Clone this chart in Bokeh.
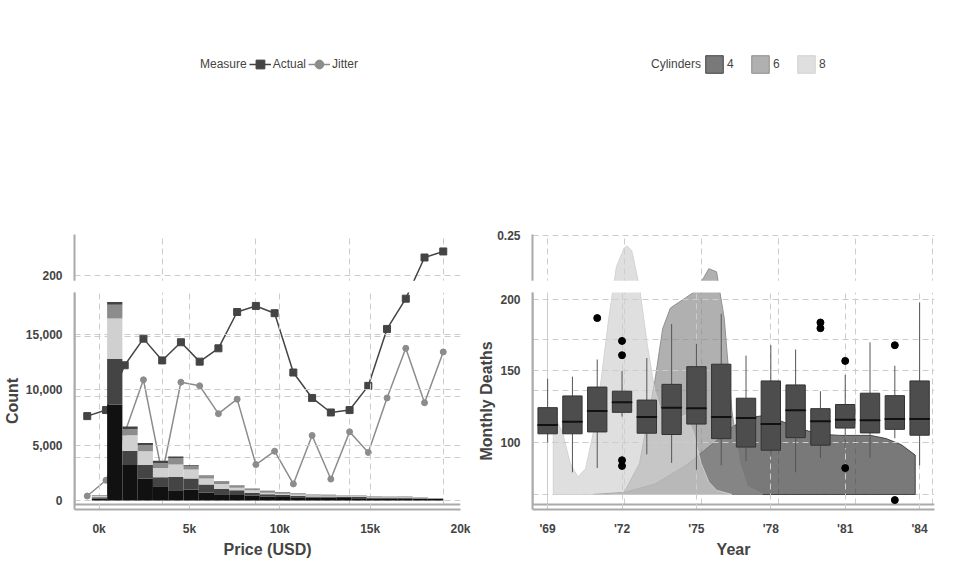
import numpy as np
from bokeh.plotting import figure
from bokeh.layouts import gridplot
from bokeh.models import (Range1d, Legend, LegendItem,
                          CustomJSTickFormatter, NumeralTickFormatter, FixedTicker)
from bokeh.embed import file_html
from bokeh.resources import INLINE

FONT = "Liberation Sans"
TXT = "#444444"

# ---------------- data ----------------
minutes = list(range(5, 105, 5))
actual = [84, 89, 126, 148, 130, 145, 129, 140, 170, 175, 169, 120, 99, 87, 89, 109, 156, 181, 215, 220]
jitter = [18, 31, 70, 114, 36, 112, 109, 86, 98, 44, 55, 28, 68, 32, 71, 54, 99, 140, 95, 137]

cyl4_x = [13, 15, 17, 19, 20, 21, 22, 23, 24, 25, 26, 27, 28, 29, 30, 31, 32, 33, 33.9]
cyl4_y = [0, 0.002, 0.01, 0.028, 0.04, 0.052, 0.065, 0.074, 0.076, 0.072, 0.066, 0.061,
          0.058, 0.057, 0.057, 0.057, 0.054, 0.048, 0.038]
cyl6_x = [14, 15, 16, 17, 17.5, 18, 18.5, 19, 19.5, 20, 20.5, 21, 21.5, 22, 22.5, 23, 24]
cyl6_y = [0, 0.002, 0.03, 0.11, 0.16, 0.18, 0.185, 0.19, 0.195, 0.205, 0.218, 0.215,
          0.17, 0.08, 0.03, 0.008, 0]
cyl8_x = [10.4, 11, 11.5, 12, 12.5, 13, 13.5, 14, 14.5, 15, 15.2, 15.5, 16, 16.5, 17,
          17.5, 18, 18.5, 19, 19.5, 20, 20.5, 21, 22]
cyl8_y = [0.078, 0.06, 0.03, 0.017, 0.025, 0.06, 0.11, 0.17, 0.22, 0.238, 0.24, 0.235,
          0.2, 0.145, 0.1, 0.075, 0.065, 0.073, 0.077, 0.06, 0.03, 0.012, 0.004, 0]

bin_start = -400
bin_width = 845
layer1 = [200, 8670, 3200, 2000, 1300, 930, 1000, 720, 580, 500, 430, 350, 330, 300, 250, 250, 230, 220, 200, 190, 180, 150, 140]
layer2 = [100, 4080, 1300, 1200, 800, 1220, 1000, 730, 490, 430, 290, 230, 170, 150, 130, 120, 110, 110, 90, 80, 80, 60, 50]
layer3 = [150, 3650, 1400, 1250, 850, 1100, 800, 550, 430, 230, 210, 140, 120, 100, 80, 70, 60, 60, 50, 50, 50, 30, 20]
layer4 = [30, 1250, 530, 550, 450, 600, 350, 200, 200, 200, 140, 150, 130, 100, 70, 60, 50, 50, 40, 40, 40, 20, 20]
layer5 = [20, 250, 240, 200, 200, 120, 50, 60, 40, 30, 30, 30, 30, 20, 20, 20, 20, 20, 10, 10, 10, 10, 10]

years = list(range(1969, 1985))
q1 = [106, 106, 107.3, 121, 106.4, 105.5, 112.8, 102.6, 96.7, 94.5, 103.3, 98, 110, 106.6, 109.1, 105]
med = [112.1, 114.4, 121.9, 128, 117.7, 124.3, 123.8, 117.7, 117, 112.8, 122.5, 114.8, 115.9, 115.5, 116.4, 116.4]
q3 = [124.3, 132.5, 138.7, 135.8, 129.6, 140.6, 153, 154.7, 130.9, 143, 140.2, 123.6, 126.5, 134.4, 132.7, 143]
w_lo = [100, 79, 82, 118, 91.6, 85.6, 80.8, 83.9, 86.8, 90, 79, 89, 96, 89, 102.9, 83.9]
w_hi = [144.5, 146, 158, 150, 159, 182.8, 169, 190, 160.7, 168, 165, 135.8, 147.2, 170, 153.6, 198]
out_year = [1971, 1972, 1972, 1972, 1972, 1980, 1980, 1981, 1981, 1983, 1983]
out_val = [187, 171, 161, 87.5, 83.5, 183.9, 179.9, 157, 82, 168, 59.6]


def style(p, xlabel, ylabel):
    p.background_fill_color = None
    p.border_fill_color = "white"
    p.outline_line_color = None
    for g in (p.xgrid[0], p.ygrid[0]):
        g.grid_line_color = "#cccccc"
        g.grid_line_dash = "6 4"
        g.grid_line_width = 1
    for ax, lab in ((p.xaxis[0], xlabel), (p.yaxis[0], ylabel)):
        ax.axis_label = lab
        ax.axis_label_text_font = FONT
        ax.axis_label_text_font_style = "bold"
        ax.axis_label_text_font_size = "16px"
        ax.axis_label_text_color = TXT
        ax.axis_label_standoff = 2
        ax.major_label_text_font = FONT
        ax.major_label_text_font_style = "bold"
        ax.major_label_text_font_size = "12px"
        ax.major_label_text_color = TXT
        ax.axis_line_color = "#aaaaaa"
        ax.axis_line_width = 2
        ax.major_tick_line_color = None
        ax.minor_tick_line_color = None
        ax.major_label_standoff = 6


def top_legend(p, items, title):
    # legend title as a first item whose glyph is invisible
    dummy = p.scatter([], [], size=0, alpha=0)
    items = [LegendItem(label=title, renderers=[dummy])] + items
    lg = Legend(items=items, orientation="horizontal", location="center")
    lg.label_text_font = FONT
    lg.label_text_font_size = "12px"
    lg.label_text_color = TXT
    lg.border_line_color = None
    lg.background_fill_alpha = 0
    lg.spacing = 2
    lg.padding = 0
    lg.margin = 2
    lg.glyph_width = 22
    lg.glyph_height = 22
    lg.label_standoff = 2
    lg.label_height = 16
    p.add_layout(lg, "above")


W, H = 472, 280

# ---------------- line chart ----------------
p1 = figure(width=W, height=H, output_backend="svg", toolbar_location=None,
            x_range=Range1d(1.6, 104.6), y_range=Range1d(11, 234),
            min_border_left=10, min_border_right=12, min_border_bottom=4, min_border_top=8)
style(p1, "Minute", "Users")
p1.xaxis.ticker = FixedTicker(ticks=[25, 50, 75, 100])
p1.yaxis.ticker = FixedTicker(ticks=[50, 100, 150, 200])
la = p1.line(minutes, actual, line_color="#444444", line_width=1.5)
sa = p1.scatter(minutes, actual, marker="square", size=7, color="#444444")
lj = p1.line(minutes, jitter, line_color="#8c8c8c", line_width=1.5)
sj = p1.scatter(minutes, jitter, marker="circle", size=6, color="#8c8c8c")
top_legend(p1, [LegendItem(label="Actual", renderers=[la, sa]),
                LegendItem(label="Jitter", renderers=[lj, sj])], "Measure")

# ---------------- density ----------------
p2 = figure(width=W, height=H, output_backend="svg", toolbar_location=None,
            x_range=Range1d(9.05, 35.15), y_range=Range1d(-0.0097, 0.251),
            min_border_left=10, min_border_right=10, min_border_bottom=4, min_border_top=8)
style(p2, "MPG", "Density")
p2.xaxis.ticker = FixedTicker(ticks=[10, 15, 20, 25, 30, 35])
p2.yaxis.ticker = FixedTicker(ticks=[0, 0.05, 0.10, 0.15, 0.20, 0.25])
p2.yaxis.formatter = NumeralTickFormatter(format="0.00")
items = []
for lab, xs, ys, col in (("4", cyl4_x, cyl4_y, "#3a3a3a"),
                         ("6", cyl6_x, cyl6_y, "#8a8a8a"),
                         ("8", cyl8_x, cyl8_y, "#d0d0d0")):
    r = p2.patch(xs + [xs[-1], xs[0]], ys + [0, 0], fill_color=col, fill_alpha=0.68,
                 line_color=col, line_alpha=0.9, line_width=1)
    items.append(LegendItem(label=lab, renderers=[r]))
top_legend(p2, items, "Cylinders")

# ---------------- histogram ----------------
p3 = figure(width=W, height=H, output_backend="svg", toolbar_location=None,
            x_range=Range1d(-1360, 20000), y_range=Range1d(-800, 18750),
            min_border_left=10, min_border_right=10, min_border_bottom=4, min_border_top=12)
style(p3, "Price (USD)", "Count")
p3.xaxis.ticker = FixedTicker(ticks=[0, 5000, 10000, 15000, 20000])
p3.xaxis.formatter = CustomJSTickFormatter(code="return (tick/1000) + 'k';")
p3.yaxis.ticker = FixedTicker(ticks=[0, 5000, 10000, 15000])
p3.yaxis.formatter = NumeralTickFormatter(format="0,0")
lefts = [bin_start + i * bin_width for i in range(len(layer1))]
rights = [l + bin_width for l in lefts]
bottom = np.zeros(len(layer1))
for layer, col in ((layer1, "#111111"), (layer2, "#444444"), (layer3, "#d0d0d0"),
                   (layer4, "#8c8c8c"), (layer5, "#444444")):
    top = bottom + np.array(layer)
    p3.quad(left=lefts, right=rights, bottom=bottom, top=top, fill_color=col, line_color=None)
    bottom = top

# ---------------- boxplot ----------------
p4 = figure(width=W, height=H, output_backend="svg", toolbar_location=None,
            x_range=Range1d(1968.39, 1984.6), y_range=Range1d(53, 204.9),
            min_border_left=10, min_border_right=10, min_border_bottom=4, min_border_top=8)
style(p4, "Year", "Monthly Deaths")
p4.xaxis.ticker = FixedTicker(ticks=[1969, 1972, 1975, 1978, 1981, 1984])
p4.xaxis.formatter = CustomJSTickFormatter(code="return \"'\" + String(tick).slice(2);")
p4.yaxis.ticker = FixedTicker(ticks=[100, 150, 200])
p4.segment(x0=years, y0=w_lo, x1=years, y1=q1, line_color="#555555", line_width=1)
p4.segment(x0=years, y0=q3, x1=years, y1=w_hi, line_color="#555555", line_width=1)
p4.vbar(x=years, width=0.78, bottom=q1, top=q3, fill_color="#4d4d4d",
        line_color="#333333", line_width=1)
p4.rect(x=years, y=med, width=0.78, height=0.01, line_color="#111111", line_width=2,
        fill_color=None)
p4.scatter(out_year, out_val, size=7, color="black")

grid = gridplot([[p1, p2], [p3, p4]], toolbar_location=None)
open("out.html", "w").write(file_html(grid, INLINE))
